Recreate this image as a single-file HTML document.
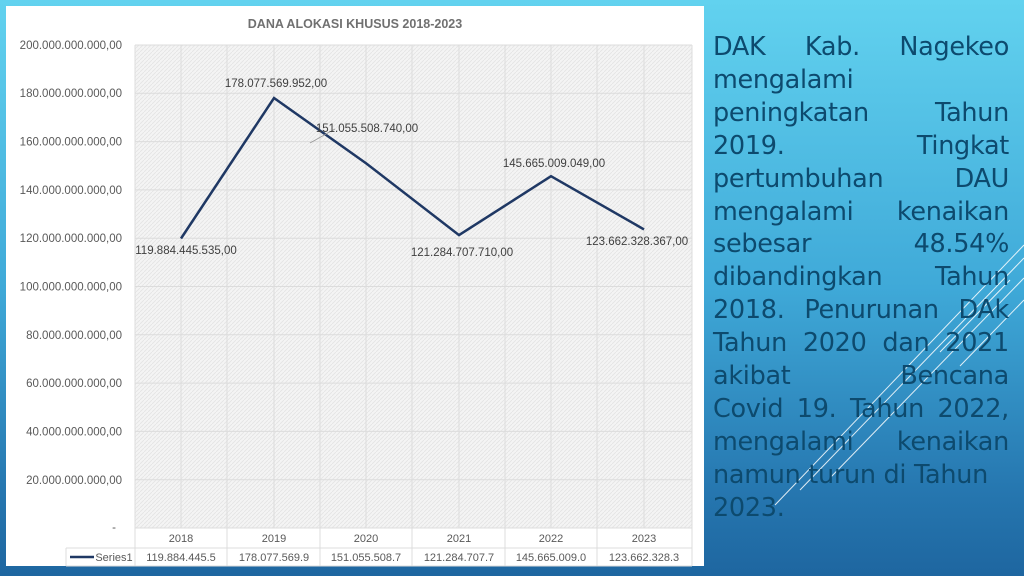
<!DOCTYPE html>
<html><head><meta charset="utf-8"><style>
html,body{margin:0;padding:0;width:1024px;height:576px;overflow:hidden}
body{background:linear-gradient(180deg,#62d2ef 0%,#3fa9d8 50%,#2677b0 85%,#1e66a0 100%);position:relative;font-family:"DejaVu Sans","Liberation Sans",sans-serif}
#panel{position:absolute;left:6px;top:6px;width:698px;height:560px;background:#fff}
#txt{position:absolute;left:713px;top:31px;width:296px;color:#0d4a6e;font-size:25.5px;line-height:32.9px;letter-spacing:-0.3px}
.l{display:flex;justify-content:space-between;white-space:nowrap}
</style></head><body>
<div id="panel"></div>
<svg width="1024" height="576" style="position:absolute;left:0;top:0">
<defs><pattern id="p" width="4" height="4" patternUnits="userSpaceOnUse"><rect width="4" height="4" fill="#f4f4f4"/><path d="M0 4L4 0" stroke="#e4e4e4" stroke-width="0.8"/></pattern></defs>
<rect x="135" y="45" width="557" height="483" fill="url(#p)"/>
<g stroke="#dcdcdc" stroke-width="1">
<line x1="135" x2="692" y1="45" y2="45"/><line x1="135" x2="692" y1="93.3" y2="93.3"/><line x1="135" x2="692" y1="141.6" y2="141.6"/><line x1="135" x2="692" y1="189.9" y2="189.9"/><line x1="135" x2="692" y1="238.2" y2="238.2"/><line x1="135" x2="692" y1="286.5" y2="286.5"/><line x1="135" x2="692" y1="334.8" y2="334.8"/><line x1="135" x2="692" y1="383.1" y2="383.1"/><line x1="135" x2="692" y1="431.4" y2="431.4"/><line x1="135" x2="692" y1="479.7" y2="479.7"/>
<line x1="181" x2="181" y1="45" y2="528"/><line x1="274" x2="274" y1="45" y2="528"/><line x1="366" x2="366" y1="45" y2="528"/><line x1="459" x2="459" y1="45" y2="528"/><line x1="551" x2="551" y1="45" y2="528"/><line x1="644" x2="644" y1="45" y2="528"/>
<line x1="227" x2="227" y1="45" y2="566"/><line x1="320" x2="320" y1="45" y2="566"/><line x1="412" x2="412" y1="45" y2="566"/><line x1="505" x2="505" y1="45" y2="566"/><line x1="597" x2="597" y1="45" y2="566"/><line x1="135" x2="135" y1="45" y2="566"/><line x1="692" x2="692" y1="45" y2="566"/>
<line x1="135" x2="692" y1="528" y2="528"/><line x1="66" x2="692" y1="548" y2="548"/><line x1="66" x2="692" y1="566" y2="566"/><line x1="66" x2="66" y1="548" y2="566"/>
</g>
<polyline points="181,238.5 274,98 366,163.2 459,235.1 551,176.2 644,229.4" fill="none" stroke="#1f3864" stroke-width="2.5" stroke-linejoin="miter"/>
<line x1="335" y1="129" x2="310" y2="143" stroke="#999" stroke-width="0.8"/>
<text x="355" y="28" font-family="Liberation Sans,sans-serif" font-size="12.5" font-weight="bold" fill="#707070" text-anchor="middle">DANA ALOKASI KHUSUS 2018-2023</text>
<g font-family="Liberation Sans,sans-serif" font-size="11.5" fill="#595959" text-anchor="end">
<text x="122" y="49">200.000.000.000,00</text><text x="122" y="97">180.000.000.000,00</text><text x="122" y="145.5">160.000.000.000,00</text><text x="122" y="194">140.000.000.000,00</text><text x="122" y="242">120.000.000.000,00</text><text x="122" y="290.5">100.000.000.000,00</text><text x="122" y="339">80.000.000.000,00</text><text x="122" y="387">60.000.000.000,00</text><text x="122" y="435.5">40.000.000.000,00</text><text x="122" y="484">20.000.000.000,00</text><text x="116" y="531">-</text>
</g>
<g font-family="Liberation Sans,sans-serif" font-size="11.5" fill="#404040" text-anchor="middle">
<text x="186" y="254">119.884.445.535,00</text><text x="276" y="87">178.077.569.952,00</text><text x="367" y="132">151.055.508.740,00</text><text x="462" y="256">121.284.707.710,00</text><text x="554" y="167">145.665.009.049,00</text><text x="637" y="245">123.662.328.367,00</text>
</g>
<g font-family="Liberation Sans,sans-serif" font-size="11" fill="#595959" text-anchor="middle">
<text x="181" y="542">2018</text><text x="274" y="542">2019</text><text x="366" y="542">2020</text><text x="459" y="542">2021</text><text x="551" y="542">2022</text><text x="644" y="542">2023</text>
<text x="181" y="561">119.884.445.5</text><text x="274" y="561">178.077.569.9</text><text x="366" y="561">151.055.508.7</text><text x="459" y="561">121.284.707.7</text><text x="551" y="561">145.665.009.0</text><text x="644" y="561">123.662.328.3</text>
<text x="114" y="561">Series1</text>
</g>
<line x1="70" y1="557" x2="94" y2="557" stroke="#1f3864" stroke-width="2.5"/>
<g stroke="#fff" stroke-width="1" opacity="0.85" fill="none">
<line x1="1024" y1="245" x2="775" y2="505"/><line x1="1024" y1="258" x2="800" y2="490"/><line x1="1024" y1="278" x2="830" y2="478"/><line x1="1010" y1="280" x2="940" y2="352"/><line x1="1024" y1="300" x2="960" y2="366"/>
</g>
</svg>
<div id="txt">
<div class="l"><span>DAK</span><span>Kab.</span><span>Nagekeo</span></div>
<div class="l"><span>mengalami</span></div>
<div class="l"><span>peningkatan</span><span>Tahun</span></div>
<div class="l"><span>2019.</span><span>Tingkat</span></div>
<div class="l"><span>pertumbuhan</span><span>DAU</span></div>
<div class="l"><span>mengalami</span><span>kenaikan</span></div>
<div class="l"><span>sebesar</span><span>48.54%</span></div>
<div class="l"><span>dibandingkan</span><span>Tahun</span></div>
<div class="l"><span>2018.</span><span>Penurunan</span><span>DAk</span></div>
<div class="l"><span>Tahun</span><span>2020</span><span>dan</span><span>2021</span></div>
<div class="l"><span>akibat</span><span>Bencana</span></div>
<div class="l"><span>Covid</span><span>19.</span><span>Tahun</span><span>2022,</span></div>
<div class="l"><span>mengalami</span><span>kenaikan</span></div>
<div class="l"><span>namun turun di Tahun</span></div>
<div class="l"><span>2023.</span></div>
</div>
</body></html>
